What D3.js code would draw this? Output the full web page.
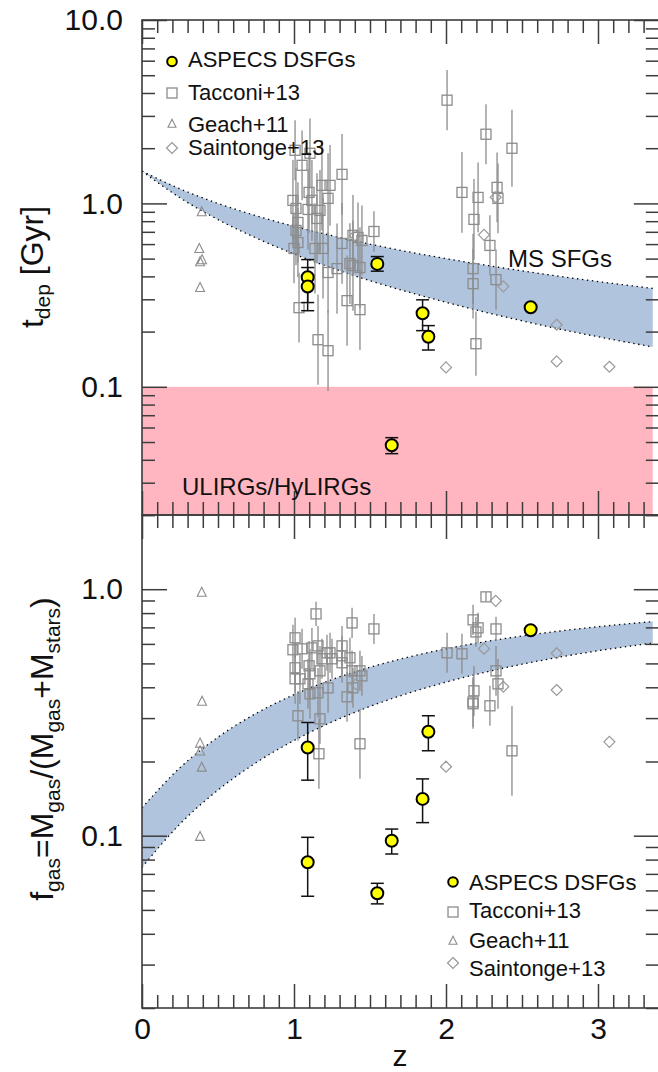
<!DOCTYPE html>
<html><head><meta charset="utf-8">
<script src="https://cdn.jsdelivr.net/npm/d3@7"></script>
<style>
body{margin:0;background:#fff}
svg{display:block}
text{font-family:"Liberation Sans",Arial,Helvetica,sans-serif}
</style>
</head><body>
<svg id="chart" width="658" height="1072"></svg>
<script>
// ---------------- DATA ----------------
const xTickMajor = [0, 1, 2, 3];
const xTickLabels = ["0", "1", "2", "3"];
const topTickMajor = [0.1, 1, 10];
const topTickLabels = ["0.1", "1.0", "10.0"];
const botTickMajor = [0.1, 1];
const botTickLabels = ["0.1", "1.0"];

// model bands
const bandZ      = [0, 0.25, 0.5, 0.75, 1, 1.25, 1.5, 1.75, 2, 2.25, 2.5, 2.75, 3, 3.36];
const tdepBandHi = [1.5, 1.2, 1.0, 0.857, 0.75, 0.667, 0.6, 0.545, 0.5, 0.462, 0.429, 0.4, 0.375, 0.344];
const tdepBandLo = [1.5, 1.073, 0.816, 0.648, 0.53, 0.444, 0.379, 0.329, 0.289, 0.256, 0.229, 0.206, 0.1875, 0.165];
const fgasBandHi = [0.1297, 0.1888, 0.2511, 0.3133, 0.3734, 0.43, 0.4822, 0.5298, 0.5728, 0.6115, 0.6461, 0.6769, 0.7045, 0.7391];
const fgasBandLo = [0.0744, 0.1116, 0.1532, 0.1976, 0.2433, 0.2893, 0.3344, 0.3781, 0.4198, 0.4592, 0.4962, 0.5306, 0.5626, 0.6045];

// ULIRG/HyLIRG region (t_dep < 0.1 Gyr)
const ulirgTdepMax = 0.1;
const ulirgZMax = 3.36;

// ASPECS DSFGs
const aspZ       = [1.09, 1.09, 1.548, 1.643, 1.846, 1.884, 2.557];
const aspTdep    = [0.396, 0.352, 0.468, 0.048, 0.2516, 0.1876, 0.2713];
const aspTdepLo  = [0.288, 0.260, 0.427, 0.0432, 0.2024, 0.1587, null];
const aspTdepHi  = [0.494, 0.447, 0.513, 0.0528, 0.298, 0.2156, null];
const aspZf      = [1.09, 1.09, 1.548, 1.643, 1.846, 1.884, 2.557];
const aspFgas    = [0.228, 0.078, 0.0584, 0.0954, 0.141, 0.264, 0.682];
const aspFgasLo  = [0.168, 0.0568, 0.0529, 0.0843, 0.113, 0.221, null];
const aspFgasHi  = [0.288, 0.0985, 0.0641, 0.1064, 0.170, 0.3065, null];

// Tacconi+13 (t_dep panel)
const tacZ    = [0.993,1.0,1.007,1.013,1.013,1.026,1.026,1.033,1.053,1.099,1.105,1.118,1.092,1.151,1.171,1.184,1.224,1.237,1.138,1.191,1.158,1.224,1.224,1.283,1.316,1.316,1.349,1.368,1.388,1.388,1.421,1.434,1.434,1.447,1.526,2.007,2.263,2.434,2.105,2.211,2.184,2.336,2.342,2.289,2.178,2.178,2.329,2.197];
const tacTdep = [1.038,0.568,1.948,0.939,0.712,0.787,0.612,0.270,1.613,1.148,1.876,1.038,0.927,0.828,0.916,1.254,1.065,1.254,0.568,0.568,0.1806,0.1573,0.420,0.441,1.44,0.605,0.295,0.470,0.458,0.669,0.652,0.447,0.2635,0.628,0.703,3.655,2.383,1.998,1.148,1.078,0.818,1.223,1.065,0.590,0.441,0.365,0.384,0.1718];
const tacTdepErr = [0.22,0.19,0.164,0.22,0.19,0.22,0.19,0.19,0.19,0.22,0.19,0.22,0.22,0.246,0.22,0.246,0.246,0.22,0.246,0.273,0.246,0.22,0.22,0.246,0.22,0.22,0.246,0.22,0.246,0.22,0.19,0.22,0.22,0.19,0.11,0.164,0.164,0.21,0.22,0.19,0.22,0.19,0.19,0.164,0.19,0.19,0.164,0.175];

// Tacconi+13 (f_gas panel)
const tacZf    = [1.145,1.382,1.526,1.007,0.993,1.053,1.118,1.158,1.217,1.237,1.25,1.316,1.316,1.368,1.184,1.007,1.099,1.105,1.171,1.316,1.382,1.434,1.447,1.007,1.039,1.092,1.105,1.158,1.224,1.349,1.388,1.026,1.171,1.164,1.434,2.007,2.105,2.178,2.211,2.197,2.263,2.329,2.329,2.342,2.184,2.178,2.178,2.289,2.434];
const tacFgas  = [0.794,0.730,0.690,0.635,0.568,0.573,0.578,0.589,0.552,0.552,0.522,0.589,0.537,0.527,0.522,0.480,0.489,0.4535,0.4665,0.503,0.4665,0.4665,0.445,0.433,0.433,0.413,0.3763,0.380,0.398,0.366,0.398,0.3065,0.298,0.215,0.236,0.552,0.547,0.751,0.697,0.671,0.931,0.690,0.4665,0.413,0.387,0.349,0.343,0.3365,0.221];
const tacFgasErr = [0.049,0.061,0.061,0.081,0.101,0.081,0.081,0.081,0.073,0.081,0.081,0.081,0.081,0.081,0.081,0.101,0.101,0.101,0.101,0.081,0.081,0.081,0.081,0.101,0.101,0.101,0.101,0.101,0.101,0.101,0.081,0.101,0.101,0.142,0.142,0.081,0.081,0.061,0.061,0.061,0.02,0.049,0.101,0.101,0.101,0.101,0.101,0.081,0.182];

// Geach+11
const geaZ    = [0.393, 0.377, 0.395, 0.382, 0.382];
const geaTdep = [0.896, 0.565, 0.49, 0.478, 0.346];
const geaZf   = [0.393, 0.395, 0.382, 0.382, 0.393, 0.382];
const geaFgas = [0.969, 0.350, 0.2366, 0.2198, 0.189, 0.099];

// Saintonge+13
const saiZ    = [1.401, 2.0, 2.25, 2.327, 2.377, 2.728, 2.728, 3.075];
const saiTdep = [0.668, 0.1276, 0.674, 1.08, 0.353, 0.218, 0.1375, 0.1286];
const saiZf   = [1.408, 2.0, 2.25, 2.327, 2.377, 2.728, 2.728, 3.075];
const saiFgas = [0.412, 0.1905, 0.574, 0.897, 0.402, 0.550, 0.390, 0.2404];

const legendNames = ["ASPECS DSFGs", "Tacconi+13", "Geach+11", "Saintonge+13"];

// ---------------- LAYOUT ----------------
const svg = d3.select("#chart");
const L = 142, R = 658.8;
const topT = 20, topB = 515, botT = 515, botB = 1008;
const GRAY = "#8c8c8c", AX = "#3c3c3c";

const x = d3.scaleLinear().domain([0, 3.4]).range([L, R]);
const yT = d3.scaleLog().domain([0.02, 10]).range([topB, topT]);
const yB = d3.scaleLog().domain([0.02, 2]).range([botB, botT]);

function minorLog(lo, hi) {
  const out = [];
  for (let e = -2; e <= 1; e++) for (let m = 1; m <= 9; m++) {
    const v = +(m * Math.pow(10, e)).toPrecision(3);
    if (v >= lo - 1e-9 && v <= hi + 1e-9 && m !== 1) out.push(v);
  }
  return out;
}
const xMinor = d3.range(0, 35).map(i => +(i / 10).toFixed(1)).filter(v => !xTickMajor.includes(v));

const defs = svg.append("defs");
defs.append("clipPath").attr("id", "clipT").append("rect").attr("x", L).attr("y", topT).attr("width", R - L).attr("height", topB - topT);
defs.append("clipPath").attr("id", "clipB").append("rect").attr("x", L).attr("y", botT).attr("width", R - L).attr("height", botB - botT);

function panel(clipId, y, bandHi, bandLo) {
  const g = svg.append("g").attr("clip-path", `url(#${clipId})`);
  const idx = d3.range(bandZ.length);
  g.append("path")
    .attr("d", d3.area().x(i => x(bandZ[i])).y0(i => y(bandLo[i])).y1(i => y(bandHi[i])).curve(d3.curveMonotoneX)(idx))
    .attr("fill", "#b0c4de");
  [bandHi, bandLo].forEach(arr => {
    g.append("path")
      .attr("d", d3.line().x(i => x(bandZ[i])).y(i => y(arr[i])).curve(d3.curveMonotoneX)(idx))
      .attr("fill", "none").attr("stroke", "#000").attr("stroke-width", 1.3).attr("stroke-dasharray", "1.4,3.6");
  });
  return g;
}

function tacconi(g, y, zs, vs, es) {
  zs.forEach((z, i) => {
    const e = es[i];
    g.append("line").attr("x1", x(z)).attr("x2", x(z))
      .attr("y1", y(vs[i] * Math.pow(10, e))).attr("y2", y(vs[i] / Math.pow(10, e)))
      .attr("stroke", GRAY).attr("stroke-width", 1.3);
  });
  zs.forEach((z, i) => {
    g.append("rect").attr("x", x(z) - 5).attr("y", y(vs[i]) - 5).attr("width", 10).attr("height", 10)
      .attr("fill", "none").attr("stroke", GRAY).attr("stroke-width", 1.3);
  });
}
function triangle(g, cx, cy, s) {
  g.append("path").attr("d", `M${cx},${cy - s * 0.6}L${cx + s / 2},${cy + s * 0.4}L${cx - s / 2},${cy + s * 0.4}Z`)
    .attr("fill", "none").attr("stroke", GRAY).attr("stroke-width", 1.1);
}
function diamond(g, cx, cy, s) {
  g.append("path").attr("d", `M${cx},${cy - s}L${cx + s},${cy}L${cx},${cy + s}L${cx - s},${cy}Z`)
    .attr("fill", "none").attr("stroke", "#999").attr("stroke-width", 1.2);
}
function aspecs(g, y, zs, vs, lo, hi) {
  zs.forEach((z, i) => {
    if (lo[i] == null) return;
    const cx = x(z);
    g.append("line").attr("x1", cx).attr("x2", cx).attr("y1", y(hi[i])).attr("y2", y(lo[i])).attr("stroke", "#111").attr("stroke-width", 1.5);
    [hi[i], lo[i]].forEach(v => g.append("line").attr("x1", cx - 6.5).attr("x2", cx + 6.5).attr("y1", y(v)).attr("y2", y(v)).attr("stroke", "#111").attr("stroke-width", 1.5));
  });
  zs.forEach((z, i) => {
    g.append("circle").attr("cx", x(z)).attr("cy", y(vs[i])).attr("r", 6).attr("fill", "#ffff00").attr("stroke", "#000").attr("stroke-width", 2);
  });
}

// ---- top panel ----
// ULIRG region
svg.append("rect").attr("x", L).attr("y", yT(ulirgTdepMax)).attr("width", x(ulirgZMax) - L).attr("height", topB - yT(ulirgTdepMax)).attr("fill", "#ffb6c1");
const gT = panel("clipT", yT, tdepBandHi, tdepBandLo);
tacconi(gT, yT, tacZ, tacTdep, tacTdepErr);
geaZ.forEach((z, i) => triangle(gT, x(z), yT(geaTdep[i]), 9));
saiZ.forEach((z, i) => diamond(gT, x(z), yT(saiTdep[i]), 5.5));
aspecs(gT, yT, aspZ, aspTdep, aspTdepLo, aspTdepHi);

// ---- bottom panel ----
const gB = panel("clipB", yB, fgasBandHi, fgasBandLo);
tacconi(gB, yB, tacZf, tacFgas, tacFgasErr);
geaZf.forEach((z, i) => triangle(gB, x(z), yB(geaFgas[i]), 9));
saiZf.forEach((z, i) => diamond(gB, x(z), yB(saiFgas[i]), 5.5));
aspecs(gB, yB, aspZf, aspFgas, aspFgasLo, aspFgasHi);

// ---- axes ----
function styleAxis(sel) {
  sel.select(".domain").remove();
  sel.selectAll(".tick line").attr("stroke", AX).attr("stroke-width", 1.5);
  sel.selectAll(".tick text").attr("fill", "#111").attr("font-size", 30).attr("font-family", '"Liberation Sans",Arial,Helvetica,sans-serif');
  sel.attr("font-size", null).attr("font-family", null);
}
function axes(y, T, B, yMinor, yMajor, yLabels, xLabels) {
  styleAxis(svg.append("g").attr("transform", `translate(${L},0)`).call(d3.axisLeft(y).tickValues(yMinor).tickSize(-13).tickFormat("")));
  styleAxis(svg.append("g").attr("transform", `translate(${L},0)`).call(d3.axisLeft(y).tickValues(yMajor).tickSize(-25).tickPadding(19).tickFormat((d, i) => yLabels[i])));
  styleAxis(svg.append("g").attr("transform", `translate(${R},0)`).call(d3.axisRight(y).tickValues(yMinor).tickSize(-13).tickFormat("")));
  styleAxis(svg.append("g").attr("transform", `translate(${R},0)`).call(d3.axisRight(y).tickValues(yMajor).tickSize(-25).tickFormat("")));
  styleAxis(svg.append("g").attr("transform", `translate(0,${T})`).call(d3.axisTop(x).tickValues(xMinor).tickSize(-13).tickFormat("")));
  styleAxis(svg.append("g").attr("transform", `translate(0,${T})`).call(d3.axisTop(x).tickValues(xTickMajor).tickSize(-24).tickFormat("")));
  styleAxis(svg.append("g").attr("transform", `translate(0,${B})`).call(d3.axisBottom(x).tickValues(xMinor).tickSize(-13).tickFormat("")));
  styleAxis(svg.append("g").attr("transform", `translate(0,${B})`).call(d3.axisBottom(x).tickValues(xTickMajor).tickSize(-24).tickPadding(10)
    .tickFormat((d, i) => xLabels ? xLabels[i] : "")));
  svg.append("rect").attr("x", L).attr("y", T).attr("width", R - L).attr("height", B - T)
    .attr("fill", "none").attr("stroke", AX).attr("stroke-width", 1.6);
}
axes(yT, topT, topB, minorLog(0.02, 10), topTickMajor, topTickLabels, null);
axes(yB, botT, botB, minorLog(0.02, 2), botTickMajor, botTickLabels, xTickLabels);

// ---- annotations ----
svg.append("text").attr("x", 508).attr("y", 267).attr("font-size", 24).attr("fill", "#111").text("MS SFGs");
svg.append("text").attr("x", 182).attr("y", 495).attr("font-size", 24).attr("fill", "#111").text("ULIRGs/HyLIRGs");

// ---- legends ----
function legend(sx, tx, ys, bases) {
  const g = svg.append("g");
  g.append("circle").attr("cx", sx).attr("cy", ys[0]).attr("r", 4.8).attr("fill", "#ffff00").attr("stroke", "#000").attr("stroke-width", 2);
  g.append("rect").attr("x", sx - 5).attr("y", ys[1] - 5).attr("width", 10).attr("height", 10).attr("fill", "none").attr("stroke", GRAY).attr("stroke-width", 1.3);
  triangle(g, sx, ys[2], 8);
  diamond(g, sx, ys[3], 5.5);
  legendNames.forEach((n, i) => g.append("text").attr("x", tx).attr("y", bases[i]).attr("font-size", 22).attr("fill", "#111").text(n));
}
legend(172, 188, [61.5, 93, 124, 148], [67, 100, 131.5, 155]);
legend(453, 469, [882, 912, 941, 963], [890, 918, 948, 975.5]);

// ---- axis titles ----
const t1 = svg.append("text").attr("transform", "translate(43,267) rotate(-90)").attr("text-anchor", "middle").attr("font-size", 32).attr("fill", "#111");
t1.append("tspan").text("t");
t1.append("tspan").attr("font-size", 21).attr("dy", 7).text("dep");
t1.append("tspan").attr("dy", -7).text(" [Gyr]");

const t2 = svg.append("text").attr("transform", "translate(53,749) rotate(-90)").attr("text-anchor", "middle").attr("font-size", 32).attr("fill", "#111");
[["f", 0], ["gas", 1], ["=M", 0], ["gas", 1], ["/(M", 0], ["gas", 1], ["+M", 0], ["stars", 1], [")", 0]].reduce((prev, [s, sub]) => {
  t2.append("tspan").attr("font-size", sub ? 21 : 32).attr("dy", sub === prev ? 0 : (sub ? 7 : -7)).text(s);
  return sub;
}, 0);

svg.append("text").attr("x", 400).attr("y", 1066).attr("text-anchor", "middle").attr("font-size", 30).attr("fill", "#111").text("z");
</script>
</body></html>
